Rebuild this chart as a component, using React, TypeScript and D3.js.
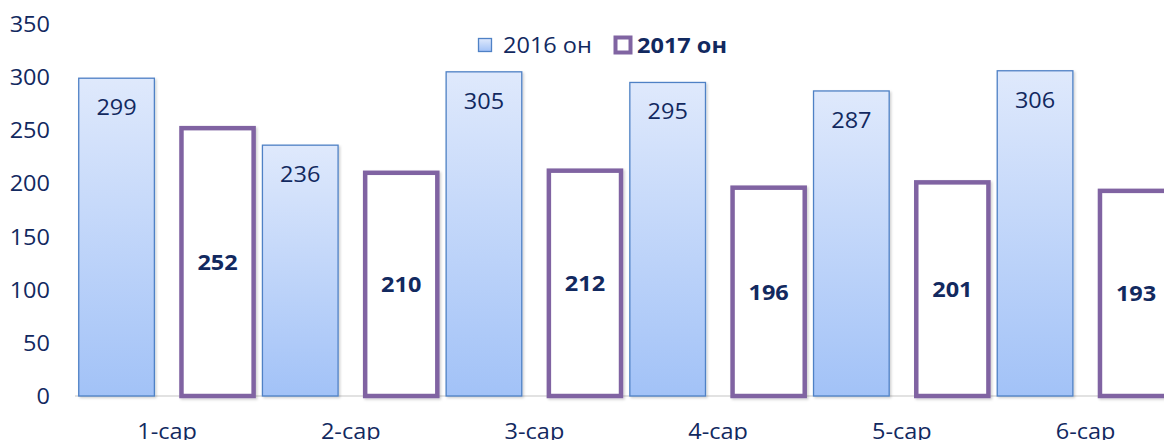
import React from 'react';
import * as d3 from 'd3';

const categories = ['1-сар', '2-сар', '3-сар', '4-сар', '5-сар', '6-сар'];
const values2016 = [299, 236, 305, 295, 287, 306];
const values2017 = [252, 210, 212, 196, 201, 193];
const yTicks = [0, 50, 100, 150, 200, 250, 300, 350];
const seriesNames = ['2016 он', '2017 он'];

const W = 1164;
const H = 440;
const SX = 1.12;
const TEXT = '#12295f';
const FONT = '"Open Sans", "Noto Sans", sans-serif';

function T(props: {
  x: number; y: number; children: React.ReactNode; anchor?: string; weight?: number; size?: number;
}) {
  const { x, y, children, anchor = 'middle', weight = 400, size = 21 } = props;
  return (
    <text
      transform={`translate(${x},${y}) scale(${SX},1)`}
      textAnchor={anchor}
      dominantBaseline="central"
      fontFamily={FONT}
      fontSize={size}
      fontWeight={weight}
      fill={TEXT}
    >
      {children}
    </text>
  );
}

export default function App() {
  const step = 183.7;
  const x0 = 75.2;
  const x = d3.scaleBand<string>().domain(categories).range([x0, x0 + step * categories.length]).paddingInner(0).paddingOuter(0);
  const x1 = d3.scaleBand<string>().domain(seriesNames).range([0, x.bandwidth()]).paddingInner(0.241).paddingOuter(0.03);
  const y = d3.scaleLinear().domain([0, 350]).range([396, 24]);
  const bw = x1.bandwidth();
  const sw2017 = 4.5;

  return (
    <svg width={W} height={H} style={{ position: 'absolute', left: 0, top: 0 }} xmlns="http://www.w3.org/2000/svg">
      <defs>
        <linearGradient id="g2016" x1="0" y1="0" x2="0" y2="1">
          <stop offset="0" stopColor="#dfe9fc" />
          <stop offset="1" stopColor="#a2c2f7" />
        </linearGradient>
        <filter id="sh" x="-10%" y="-10%" width="130%" height="130%">
          <feDropShadow dx="1.5" dy="1.5" stdDeviation="1.2" floodColor="#000" floodOpacity="0.18" />
        </filter>
      </defs>
      <rect x={0} y={0} width={W} height={H} fill="#fff" />

      {yTicks.map((t) => (
        <T key={t} x={50} y={y(t)} anchor="end">{t}</T>
      ))}

      <line x1={75} x2={W} y1={y(0)} y2={y(0)} stroke="#d9d9d9" strokeWidth={1.5} />

      {categories.map((c, i) => {
        const bx = (x(c) as number) + (x1(seriesNames[0]) as number);
        const v = values2016[i];
        return (
          <g key={'a' + c}>
            <rect
              x={bx + 0.5}
              y={y(v)}
              width={bw - 1}
              height={y(0) - y(v)}
              fill="url(#g2016)"
              stroke="#4f81c5"
              strokeWidth={1.3}
              filter="url(#sh)"
            />
            <T x={bx + bw / 2} y={y(v) + 29}>{v}</T>
          </g>
        );
      })}

      {categories.map((c, i) => {
        const bx = (x(c) as number) + (x1(seriesNames[1]) as number);
        const v = values2017[i];
        return (
          <g key={'b' + c}>
            <rect
              x={bx + sw2017 / 2}
              y={y(v)}
              width={bw - sw2017}
              height={y(0) - y(v)}
              fill="#fff"
              stroke="#8064a2"
              strokeWidth={sw2017}
              filter="url(#sh)"
            />
            <T x={bx + bw / 2} y={(y(v) + y(0)) / 2} weight={700}>{v}</T>
          </g>
        );
      })}

      {categories.map((c) => (
        <T key={'l' + c} x={(x(c) as number) + x.bandwidth() / 2} y={431}>{c}</T>
      ))}

      <g>
        <rect x={478.5} y={38.5} width={13} height={13} fill="url(#g2016)" stroke="#4f81c5" strokeWidth={1.3} />
        <T x={503} y={45} anchor="start">{seriesNames[0]}</T>
        <rect x={615.5} y={37.5} width={15} height={15} fill="#fff" stroke="#8064a2" strokeWidth={4} />
        <T x={637} y={45} anchor="start" weight={700}>{seriesNames[1]}</T>
      </g>
    </svg>
  );
}
